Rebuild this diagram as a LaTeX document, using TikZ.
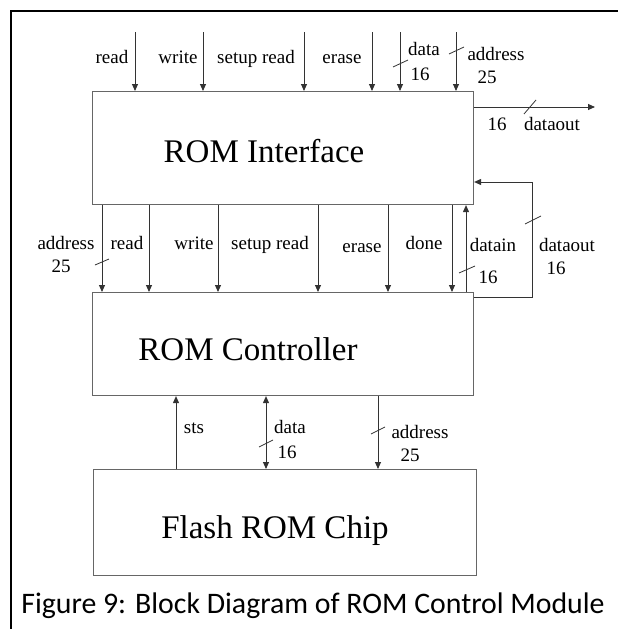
\documentclass[tikz,border=0pt]{standalone}
\usepackage{fontspec}
\setmainfont{Liberation Serif}
\newfontfamily\capfont{Carlito}
\usetikzlibrary{arrows.meta}
\tikzset{
  blk/.style={draw=black!60, line width=1.1pt, anchor=north west, inner sep=0pt},
  blktext/.style={font=\fontsize{33}{36}\selectfont, anchor=base, inner sep=0pt},
  arr/.style={draw=black!80, line width=0.9pt, -{Triangle[length=7pt,width=6pt]}},
  darr/.style={draw=black!80, line width=0.9pt, {Triangle[length=7pt,width=6pt]}-{Triangle[length=7pt,width=6pt]}},
  wire/.style={draw=black!80, line width=0.9pt},
  slash/.style={draw=black!80, line width=0.8pt},
  lbl/.style={font=\fontsize{19}{21}\selectfont, anchor=base, inner sep=0pt},
  frame/.style={draw=black, line width=2.4pt}
}
\begin{document}
\begin{tikzpicture}[x=1pt,y=-1pt]
\useasboundingbox (0,0) rectangle (618,629);
% frame (top and left edges)
\draw[frame] (618,11) -- (11,11) -- (11,629);

% boxes
\node[blk, minimum width=381pt, minimum height=113pt] (ri) at (92,91) {};
\node[blk, minimum width=381pt, minimum height=103pt] (rc) at (92,292) {};
\node[blk, minimum width=383pt, minimum height=106pt] (fr) at (93,469) {};
\node[blktext] (rit) at (264,162) {ROM Interface};
\node[blktext] (rct) at (248,360) {ROM Controller};
\node[blktext] (frt) at (275,538) {Flash ROM Chip};

% top inputs
\coordinate (t1) at (135,32);
\coordinate (t2) at (203,32);
\coordinate (t3) at (304,32);
\coordinate (t4) at (372,32);
\coordinate (t5) at (400,32);
\coordinate (t6) at (456,32);
\foreach \c in {t1,t2,t3,t4,t5,t6}{\draw[arr] (\c) -- (\c |- ri.north);}
\node[lbl] (l1) at (112,63) {read};
\node[lbl] (l2) at (178,63) {write};
\node[lbl] (l3) at (256,63) {setup read};
\node[lbl] (l4) at (342,63) {erase};
\node[lbl] (l5) at (424,55) {data};
\node[lbl] (l5n) at (420,80) {16};
\node[lbl] (l6) at (496,60) {address};
\node[lbl] (l6n) at (487,83) {25};
\draw[slash] (393,67) -- (408,60);
\draw[slash] (449,54) -- (464,47);

% dataout right
\coordinate (dout) at (595,107);
\draw[arr] (ri.east |- dout) -- (dout);
\draw[slash] (524,114) -- (536,100);
\node[lbl] (l7n) at (497,130) {16};
\node[lbl] (l7) at (552,130) {dataout};

% feedback
\coordinate (fbr) at (532,297);
\coordinate (fbt) at (532,182);
\draw[arr] (rc.east |- fbr) -- (fbr) -- (fbt) -- (ri.east |- fbt);
\draw[slash] (525,224) -- (541,216);
\node[lbl] (l8) at (567,251) {dataout};
\node[lbl] (l8n) at (556,274) {16};

% middle signals
\coordinate (m1) at (102,0);
\coordinate (m2) at (149,0);
\coordinate (m3) at (218,0);
\coordinate (m4) at (318,0);
\coordinate (m5) at (388,0);
\coordinate (m6) at (452,0);
\coordinate (m7) at (466,0);
\foreach \c in {m1,m2,m3,m4,m5,m6}{\draw[arr] (ri.south -| \c) -- (rc.north -| \c);}
\draw[arr] (rc.north -| m7) -- (ri.south -| m7);
\draw[slash] (95,265) -- (109,259);
\draw[slash] (459,273) -- (475,266);
\node[lbl] (ma) at (66,249) {address};
\node[lbl] (man) at (61,272) {25};
\node[lbl] (mb) at (127,249) {read};
\node[lbl] (mc) at (194,249) {write};
\node[lbl] (md) at (270,249) {setup read};
\node[lbl] (me) at (362,252) {erase};
\node[lbl] (mf) at (424,249) {done};
\node[lbl] (mg) at (493,251) {datain};
\node[lbl] (mgn) at (488,283) {16};

% bottom signals
\coordinate (b1) at (176,0);
\coordinate (b2) at (266,0);
\coordinate (b3) at (378,0);
\draw[arr] (fr.north -| b1) -- (rc.south -| b1);
\draw[darr] (rc.south -| b2) -- (fr.north -| b2);
\draw[arr] (rc.south -| b3) -- (fr.north -| b3);
\draw[slash] (259,447) -- (273,440);
\draw[slash] (371,434) -- (385,427);
\node[lbl] (bs) at (194,433) {sts};
\node[lbl] (bd) at (290,433) {data};
\node[lbl] (bdn) at (287,458) {16};
\node[lbl] (ba) at (420,438) {address};
\node[lbl] (ban) at (410,461) {25};

% caption
\node[font=\capfont\fontsize{29.8}{32}\selectfont, anchor=base, inner sep=0pt] (cap) at (313,613) {Figure 9: Block Diagram of ROM Control Module};
\end{tikzpicture}
\end{document}
